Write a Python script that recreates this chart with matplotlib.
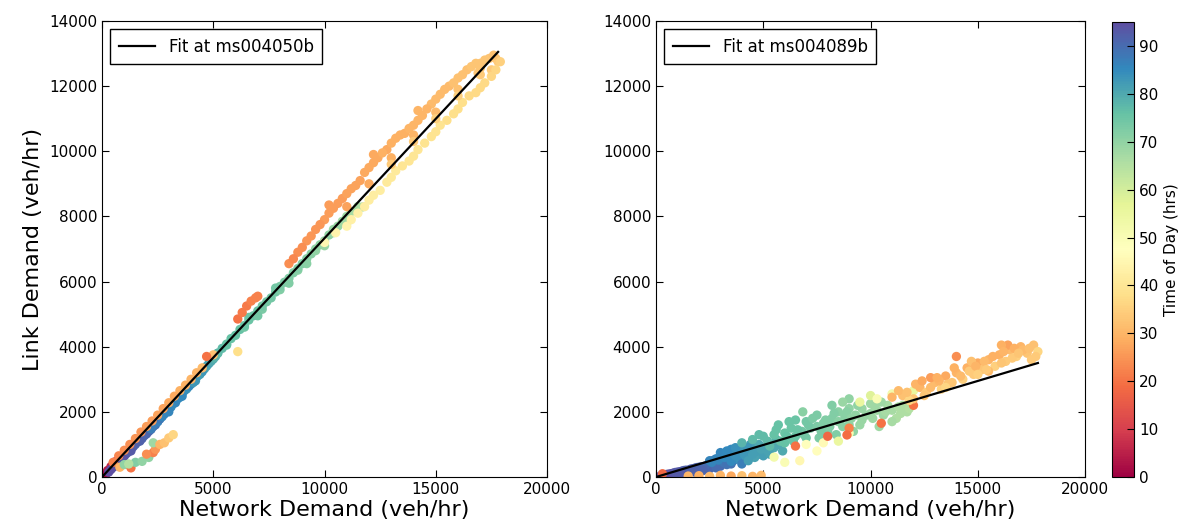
import numpy as np
import matplotlib
matplotlib.use("Agg")
import matplotlib.pyplot as plt

# --- data (network demand, link demand, time of day) ---
left_net = [
    # night / early morning near origin
    100, 250, 400, 600, 150, 800,
    # purple late evening
    300, 500, 700, 900, 1100, 1300, 1500, 1700, 1900, 2100, 2300, 2500, 1000, 1600, 2000,
    400, 600, 800, 1200, 1400, 1800, 2200, 2400, 1300, 1700,
    # blue evening
    2200, 2500, 2800, 3000, 3200, 3400, 3600, 3800, 4000, 4200, 4400, 4600, 4800, 5000,
    3300, 3900, 4500, 2600, 5200,
    2300, 2700, 3100, 3500, 3700, 4100, 4300, 4700, 4900, 3000, 3600, 4200, 5100,
    # green afternoon
    5000, 5400, 5800, 6200, 6600, 7000, 7400, 7800, 8200, 8600, 9000, 9400, 9800, 10200,
    10600, 11000, 11500, 7200, 8000, 8800, 9600, 10400, 6400, 5600, 11700,
    5200, 5600, 6000, 6400, 6800, 7200, 7600, 8000, 8400, 8800, 9200, 9600, 10000, 10400,
    10800, 11200, 7000, 8400, 9200, 10000, 11000, 6600, 7800,
    # morning ramp above the line
    500, 1000, 1500, 2000, 2500, 3000, 3500, 4000, 4500, 5000, 4700,
    750, 1250, 1750, 2250, 2750, 3250, 3750, 4250,
    # red cluster
    6100, 6300, 6500, 6700, 6900, 7000,
    # orange morning peak
    8400, 8800, 9200, 9600, 10000, 10400, 10800, 11200, 11600, 12000, 12400, 12800,
    13200, 13600, 14000, 14400, 14800, 15200, 15600, 16000, 16400, 16800, 17200, 17700,
    8600, 9000, 9400, 9800, 10200, 10600, 11000, 11400, 11800, 12200, 12600, 13000,
    13400, 13800, 14200, 14600, 15000, 15400, 15800, 16200, 16600, 17000, 17400, 17800,
    14200, 12200, 10200, 17500, 16900,
    11000, 12000, 13000, 14000, 15000, 16000, 17000,
    # light orange late morning (below the line)
    11000, 11500, 12000, 12500, 13000, 13500, 14000, 14500, 15000, 15500, 16000, 16500,
    17000, 17500, 17900,
    11200, 11800, 12200, 12800, 13200, 13800, 14200, 14800, 15200, 15800, 16200, 16800,
    17200, 17700, 10500, 10000,
    13000, 14000, 15000, 16000, 17000, 17600,
    # outlier branch
    800, 1000, 1300, 1500, 1800, 2100, 2300, 2400, 2300, 2600, 2800, 3000, 3200, 2000, 1200,
    6100,
]
left_link = [
    80, 200, 320, 470, 60, 620,
    150, 300, 430, 580, 720, 860, 1000, 1130, 1270, 1400, 1550, 1700, 640, 1080, 1320,
    230, 380, 500, 780, 930, 1180, 1460, 1600, 800, 1100,
    1480, 1700, 1930, 2080, 2250, 2400, 2560, 2700, 2850, 3000, 3150, 3320, 3480, 3620,
    2280, 2780, 3230, 1780, 3800,
    1600, 1850, 2150, 2450, 2650, 2900, 3100, 3400, 3550, 2000, 2480, 2950, 3700,
    3650, 3950, 4250, 4530, 4820, 5100, 5380, 5680, 5980, 6270, 6550, 6850, 7130, 7430,
    7700, 8000, 8300, 5150, 5750, 6350, 6950, 7500, 4600, 4080, 8290,
    3800, 4050, 4350, 4650, 4950, 5250, 5500, 5850, 6100, 6400, 6700, 7000, 7250, 7600,
    7850, 8150, 4950, 5950, 6550, 7100, 7800, 4900, 5800,
    450, 820, 1180, 1550, 1900, 2280, 2650, 3000, 3350, 3750, 3700,
    650, 1000, 1380, 1720, 2100, 2480, 2820, 3200,
    4850, 5050, 5250, 5400, 5500, 5550,
    6550, 6900, 7250, 7600, 7900, 8250, 8550, 8850, 9100, 9500, 9800, 10050,
    10400, 10550, 10800, 11100, 11450, 11750, 12000, 12250, 12500, 12700, 12800, 12850,
    6700, 7050, 7400, 7750, 8100, 8400, 8700, 8950, 9350, 9650, 9950, 10250,
    10500, 10700, 10950, 11300, 11600, 11900, 12100, 12350, 12600, 12700, 12850, 12750,
    11250, 9900, 8350, 12500, 12400,
    8300, 9000, 9800, 10500, 11200, 11900, 12550,
    7700, 8100, 8500, 8800, 9200, 9550, 9850, 10250, 10600, 10950, 11300, 11700,
    11950, 12300, 12750,
    7900, 8300, 8650, 9050, 9400, 9700, 10050, 10450, 10800, 11150, 11500, 11800,
    12100, 12500, 7500, 7200,
    9600, 10300, 11000, 11700, 12350, 12950,
    300, 380, 280, 450, 480, 600, 750, 850, 1050, 1000, 1050, 1200, 1300, 700, 400,
    3850,
]
left_tod = [
    2, 4, 6, 8, 1, 10,
    95, 94, 93, 93, 92, 92, 91, 91, 90, 90, 89, 89, 94, 92, 91,
    95, 94, 93, 92, 92, 91, 90, 89, 93, 92,
    87, 86, 86, 85, 85, 84, 84, 83, 83, 82, 82, 81, 81, 80,
    86, 85, 83, 88, 79,
    87, 86, 85, 85, 84, 83, 82, 81, 80, 86, 85, 83, 79,
    78, 77, 76, 76, 75, 75, 74, 74, 73, 72, 72, 71, 70, 70,
    69, 68, 67, 73, 72, 71, 70, 69, 74, 76, 66,
    77, 76, 76, 75, 75, 74, 74, 73, 72, 72, 71, 70, 70, 69,
    68, 67, 74, 72, 71, 69, 68, 75, 74,
    22, 24, 25, 26, 27, 28, 29, 30, 31, 32, 20,
    23, 24, 25, 26, 27, 28, 29, 30,
    20, 21, 21, 22, 22, 22,
    24, 24, 25, 25, 26, 26, 26, 27, 27, 28, 28, 28,
    29, 29, 30, 30, 31, 31, 31, 32, 32, 33, 33, 33,
    23, 24, 25, 25, 26, 26, 27, 27, 28, 28, 29, 29,
    29, 30, 30, 30, 31, 31, 32, 32, 33, 33, 33, 34,
    30, 28, 26, 34, 33,
    27, 28, 29, 30, 31, 32, 33,
    44, 43, 42, 42, 41, 40, 40, 39, 39, 38, 38, 37,
    37, 36, 35,
    43, 42, 42, 41, 41, 40, 40, 39, 39, 38, 38, 37,
    37, 36, 44, 45,
    34, 34, 35, 35, 34, 32,
    30, 70, 20, 72, 70, 70, 22, 25, 68, 30, 32, 34, 36, 24, 65,
    38,
]

right_net = [
    # purple late evening
    200, 400, 600, 800, 1000, 1200, 1400, 1600, 1800, 2000, 2200, 2400, 2600, 2800, 3000,
    3300, 1500, 2000, 2500, 3000, 3500, 1000, 2500, 3200,
    300, 500, 700, 900, 1100, 1300, 1700, 1900, 2100, 2300, 2700, 2900, 3100, 1800, 2200,
    2800, 3300, 1200, 2700, 3600,
    # blue evening
    2500, 2800, 3000, 3300, 3600, 3900, 4200, 4500, 4800, 5000, 4600, 4200, 3800, 3500,
    4000, 4400, 5200, 5500, 3000, 3500, 4800, 4000,
    2600, 2900, 3200, 3400, 3700, 4100, 4300, 4700, 5100, 5300, 5700, 5900, 3300, 3700,
    4500, 4900, 4300, 5600,
    # green afternoon
    4000, 4500, 5000, 5500, 5700, 6000, 6300, 6500, 6800, 7000, 7200, 7500, 7500, 7800,
    8000, 8200, 8500, 8500, 8800, 9000, 9000, 9300, 9600, 9600, 10000, 10000, 10300,
    10600, 10800, 11000, 11300, 11700, 6000, 7000, 6500, 8200, 9000, 5300, 5800, 10400,
    11200, 6840, 8700,
    4800, 5200, 5600, 6100, 6200, 6600, 6900, 7100, 7300, 7700, 7900, 8100, 8300, 8700,
    8900, 9100, 9400, 9500, 9800, 10100, 10200, 10500, 10700, 11000, 11400, 11500, 11800,
    9200, 7600, 6400, 8400,
    # yellow midday
    6000, 5500, 7000, 7500, 8500, 9000, 9500, 10000, 10300, 11000, 12000, 7800, 6700, 11700,
    # red scattered
    6500, 8000, 9000, 10500, 12000, 300, 8900,
    # orange along the bottom
    1500, 2000, 2500, 3000, 3500, 4000, 4500, 4900,
    # orange morning peak
    11000, 11500, 12000, 12300, 12600, 13000, 13300, 13500, 13800, 14000, 14300, 14500,
    14800, 15000, 15200, 15500, 15800, 16000, 16300, 16500, 16800, 17000, 17300, 17600,
    17800, 17700, 14000, 16400, 12800, 11800, 16100, 15500, 14700, 13200,
    11300, 11700, 12100, 12500, 12800, 13100, 13600, 13900, 14200, 14600, 14900, 15300,
    15400, 15700, 16100, 16200, 16600, 16700, 17100, 17400, 17500, 15000, 13500, 16900,
    12400,
]
right_link = [
    30, 60, 90, 120, 150, 180, 210, 240, 270, 300, 320, 360, 390, 420, 440,
    470, 120, 180, 250, 330, 400, 60, 480, 560,
    40, 80, 100, 140, 160, 200, 250, 290, 310, 340, 410, 430, 460, 150, 200,
    280, 380, 100, 520, 500,
    500, 560, 600, 650, 700, 750, 800, 850, 700, 650, 600, 600, 550, 480,
    950, 1000, 800, 900, 750, 850, 1000, 400,
    450, 520, 600, 700, 650, 700, 900, 800, 900, 700, 1000, 800, 800, 900,
    700, 850, 500, 1150,
    1050, 1150, 1250, 1300, 1600, 1350, 1500, 1250, 1400, 1700, 1500, 1550, 1900, 1650,
    1400, 1800, 1700, 2000, 1850, 1600, 2100, 1900, 1750, 2100, 1950, 2250, 2050,
    1900, 2200, 2050, 2150, 2000, 1050, 1200, 1750, 2200, 2400, 950, 1100, 1550,
    1800, 2000, 2300,
    1300, 1100, 1450, 1250, 1700, 1450, 1300, 1600, 1800, 1400, 1750, 1550, 1950, 1550,
    2000, 1800, 2200, 1600, 1900, 1800, 2150, 2300, 2000, 1700, 1950, 2200, 2100,
    1400, 1200, 1100, 1300,
    450, 610, 1000, 800, 1100, 1350, 2300, 2500, 2400, 2550, 2650, 1050, 500, 2580,
    950, 1250, 1500, 1650, 2200, 100, 1290,
    30, 40, 20, 50, 30, 40, 20, 50,
    2450, 2500, 2400, 2750, 2600, 2900, 2700, 3100, 2900, 3200, 3000, 3350,
    3150, 3500, 3300, 3600, 3400, 3750, 3550, 3900, 3700, 4000, 3800, 4050,
    3850, 3700, 3700, 4050, 3050, 2350, 4050, 3250, 3550, 2950,
    2650, 2600, 2850, 2500, 2750, 3050, 2850, 3350, 3100, 3250, 3400, 3550,
    3300, 3700, 3500, 3850, 3650, 3950, 3900, 3950, 3600, 3150, 2750, 3800,
    2950,
]
right_tod = [
    95, 95, 94, 94, 93, 93, 92, 92, 91, 91, 90, 90, 89, 89, 88,
    88, 93, 92, 91, 90, 89, 94, 90, 88,
    95, 94, 94, 93, 93, 92, 92, 91, 91, 90, 89, 89, 88, 92, 91,
    90, 89, 93, 90, 88,
    86, 86, 85, 85, 84, 84, 83, 83, 82, 82, 81, 82, 84, 85,
    83, 82, 81, 80, 86, 85, 80, 87,
    86, 86, 85, 85, 84, 83, 83, 82, 81, 81, 80, 80, 85, 84,
    82, 81, 82, 79,
    78, 77, 77, 76, 76, 75, 75, 75, 74, 74, 73, 73, 73, 72,
    72, 72, 71, 71, 71, 70, 70, 70, 69, 69, 69, 68, 68,
    68, 67, 67, 66, 66, 76, 74, 75, 72, 70, 77, 76, 68,
    66, 71, 69,
    77, 77, 76, 76, 75, 75, 74, 74, 73, 73, 72, 72, 72, 71,
    71, 70, 70, 69, 69, 68, 68, 68, 67, 67, 66, 66, 65,
    70, 73, 75, 72,
    50, 52, 48, 47, 55, 50, 55, 58, 50, 52, 55, 46, 45, 50,
    20, 18, 22, 20, 20, 18, 19,
    30, 29, 31, 30, 28, 32, 30, 31,
    30, 32, 33, 30, 34, 31, 35, 28, 33, 30, 35, 29,
    34, 28, 33, 30, 35, 29, 34, 31, 35, 30, 33, 32,
    36, 34, 24, 27, 26, 36, 29, 31, 32, 30,
    31, 32, 30, 33, 31, 29, 33, 29, 31, 34, 30, 31,
    34, 29, 33, 30, 34, 29, 31, 32, 34, 35, 36, 33,
    28,
]

# least squares fit lines (end points)
fit_a_x = [0, 17800]
fit_a_y = [0, 13050]
fit_b_x = [0, 17800]
fit_b_y = [0, 3500]

fit_labels = ["Fit at ms004050b", "Fit at ms004089b"]
tod_ticks = [0, 10, 20, 30, 40, 50, 60, 70, 80, 90]

fig = plt.figure(figsize=(11.81, 5.31), dpi=100)
fig.patch.set_facecolor("white")

ax1 = fig.add_axes([0.0864, 0.1017, 0.3768, 0.8588])
ax2 = fig.add_axes([0.5555, 0.1017, 0.3633, 0.8588])
cax = fig.add_axes([0.9416, 0.1017, 0.0186, 0.8569])

panels = [
    (ax1, left_net, left_link, left_tod, fit_a_x, fit_a_y, fit_labels[0]),
    (ax2, right_net, right_link, right_tod, fit_b_x, fit_b_y, fit_labels[1]),
]

for ax, net, link, tod, fx, fy, lab in panels:
    sc = ax.scatter(net, link, c=tod, cmap="Spectral", vmin=0, vmax=95,
                    s=45, linewidths=0, zorder=2)
    ax.plot(fx, fy, color="black", lw=1.6, label=lab, zorder=3)
    ax.set_xlim(0, 20000)
    ax.set_ylim(0, 14000)
    ax.set_xticks([0, 5000, 10000, 15000, 20000])
    ax.set_yticks(np.arange(0, 14001, 2000))
    ax.tick_params(direction="in", top=True, right=True, labelsize=11, length=5)
    ax.set_xlabel("Network Demand (veh/hr)", fontsize=16, labelpad=2)
    leg = ax.legend(loc="upper left", fontsize=12, fancybox=False, framealpha=1,
                    handlelength=2.2, borderpad=0.5)
    leg.get_frame().set_edgecolor("black")
    for sp in ax.spines.values():
        sp.set_color("black")

ax1.set_ylabel("Link Demand (veh/hr)", fontsize=16)

cb = fig.colorbar(sc, cax=cax, ticks=tod_ticks)
cb.set_label("Time of Day (hrs)", fontsize=11)
cb.ax.tick_params(labelsize=11, direction="in", length=5)
cb.outline.set_edgecolor("black")

fig.savefig("out.png", dpi=100, facecolor="white")
